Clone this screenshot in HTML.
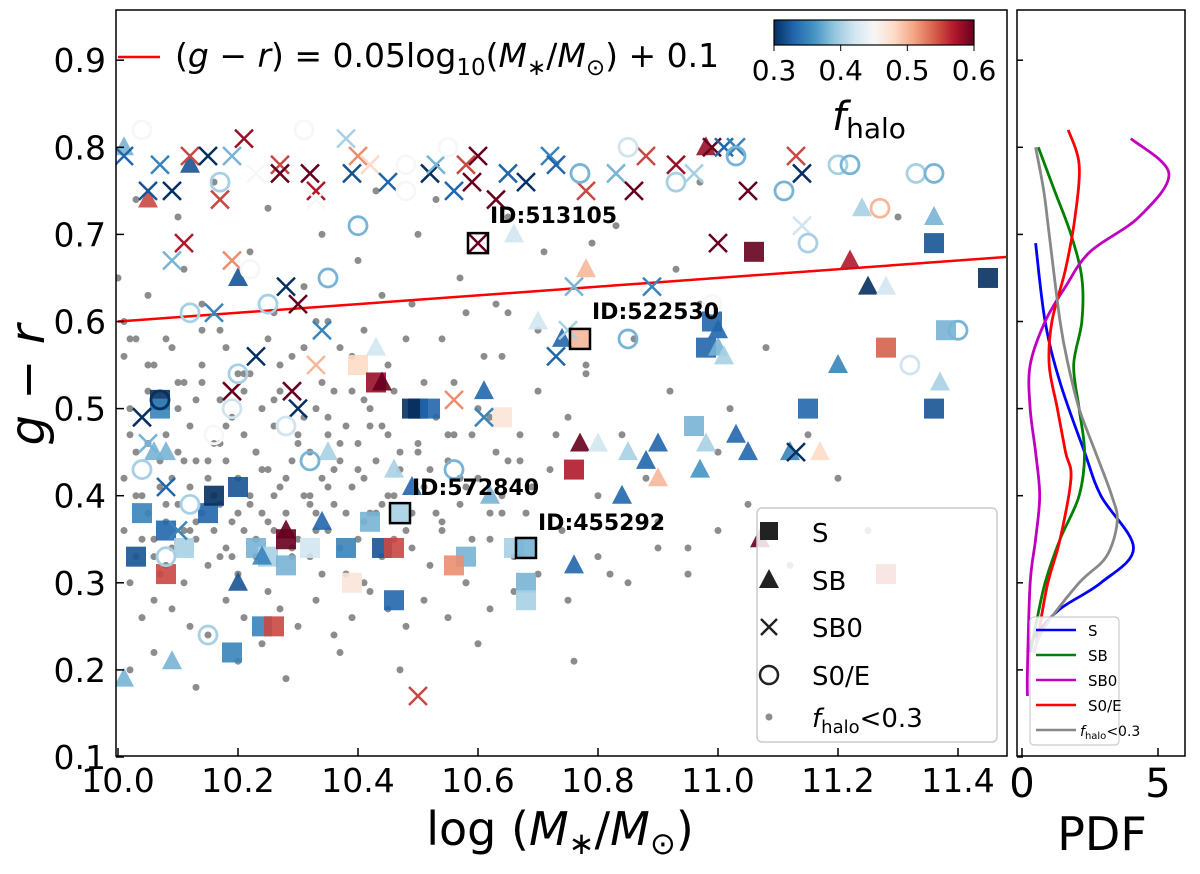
<!DOCTYPE html>
<html><head><meta charset="utf-8">
<style>
body{margin:0;background:#fff;}
svg{display:block;font-family:"DejaVu Sans","Liberation Sans",sans-serif;}
</style></head>
<body>
<svg id="chart" width="1200" height="874" viewBox="0 0 1200 874" xmlns="http://www.w3.org/2000/svg">
<defs>
<linearGradient id="cmap" x1="0" x2="1" y1="0" y2="0">
<stop offset="0" stop-color="#053061"/><stop offset="0.1" stop-color="#2166ac"/><stop offset="0.2" stop-color="#4393c3"/><stop offset="0.3" stop-color="#92c5de"/><stop offset="0.4" stop-color="#d1e5f0"/><stop offset="0.5" stop-color="#f7f7f7"/><stop offset="0.6" stop-color="#fddbc7"/><stop offset="0.7" stop-color="#f4a582"/><stop offset="0.8" stop-color="#d6604d"/><stop offset="0.9" stop-color="#b2182b"/><stop offset="1" stop-color="#67001f"/>
</linearGradient>
<clipPath id="mainclip"><rect x="116" y="11" width="890" height="745"/></clipPath>
</defs>
<g id="main" clip-path="url(#mainclip)"></g>
<g id="pdf"></g>
<g id="axes"></g>
</svg>
<script>
// ---------- data ----------
const xTicks=[10.0,10.2,10.4,10.6,10.8,11.0,11.2,11.4];
const yTicks=[0.1,0.2,0.3,0.4,0.5,0.6,0.7,0.8,0.9];
const pdfTicks=[0,5];
const cbTicks=[0.3,0.4,0.5,0.6];
// S squares
const sX=[10.07,10.07,10.04,10.03,10.08,10.08,10.11,10.15,10.16,10.2,10.19,10.23,10.25,10.24,10.26,10.28,10.28,10.32,10.38,10.39,10.40,10.42,10.43,10.44,10.46,10.46,10.49,10.5,10.52,10.58,10.56,10.64,10.68,10.68,10.66,10.76,10.77,10.96,10.99,10.98,11.06,11.15,11.28,11.36,11.38,11.36,11.45,11.28,10.47,10.68];
const sY=[0.51,0.50,0.38,0.33,0.36,0.31,0.34,0.38,0.40,0.41,0.22,0.34,0.33,0.25,0.25,0.32,0.35,0.34,0.34,0.30,0.55,0.37,0.53,0.34,0.34,0.28,0.50,0.50,0.50,0.33,0.32,0.49,0.30,0.28,0.34,0.43,0.58,0.48,0.60,0.57,0.68,0.50,0.57,0.69,0.59,0.50,0.65,0.31,0.38,0.34];
const sF=[0.3,0.35,0.35,0.32,0.33,0.55,0.4,0.33,0.3,0.32,0.35,0.38,0.4,0.35,0.55,0.38,0.6,0.42,0.35,0.47,0.48,0.38,0.58,0.32,0.55,0.33,0.3,0.3,0.33,0.38,0.52,0.47,0.38,0.4,0.4,0.57,0.5,0.38,0.33,0.33,0.6,0.33,0.54,0.32,0.38,0.32,0.3,0.55,0.4,0.38];
// SB triangles
const tX=[10.01,10.05,10.2,10.01,10.08,10.09,10.12,10.2,10.24,10.28,10.35,10.34,10.43,10.44,10.46,10.49,10.61,10.62,10.66,10.70,10.74,10.76,10.77,10.78,10.80,10.84,10.85,10.88,10.90,10.9,10.97,10.98,11.03,11.0,11.0,11.01,11.05,11.07,11.12,11.17,11.2,11.22,11.24,11.25,11.28,11.37,10.98,11.36,10.06];
const tY=[0.80,0.74,0.65,0.19,0.45,0.21,0.78,0.30,0.33,0.36,0.45,0.37,0.57,0.53,0.43,0.41,0.52,0.40,0.70,0.60,0.58,0.32,0.46,0.66,0.46,0.40,0.45,0.44,0.46,0.42,0.43,0.46,0.47,0.57,0.59,0.56,0.45,0.35,0.45,0.45,0.55,0.67,0.73,0.64,0.64,0.53,0.80,0.72,0.45];
const tF=[0.38,0.55,0.32,0.38,0.38,0.38,0.32,0.32,0.35,0.6,0.4,0.33,0.42,0.6,0.4,0.33,0.33,0.38,0.42,0.42,0.33,0.33,0.6,0.5,0.42,0.33,0.4,0.33,0.33,0.5,0.36,0.4,0.33,0.38,0.33,0.4,0.33,0.6,0.35,0.48,0.35,0.57,0.4,0.3,0.42,0.4,0.58,0.38,0.38];
// SB0 crosses
const cX=[10.01,10.05,10.07,10.09,10.09,10.11,10.12,10.15,10.17,10.19,10.21,10.19,10.23,10.27,10.27,10.32,10.33,10.33,10.34,10.38,10.39,10.4,10.42,10.45,10.52,10.53,10.56,10.58,10.59,10.60,10.63,10.65,10.68,10.72,10.73,10.78,10.83,10.86,10.88,10.93,10.96,10.99,11.01,11.03,11.05,11.13,11.14,10.04,10.08,10.1,10.16,10.19,10.23,10.28,10.3,10.3,10.33,10.56,10.61,10.5,10.73,10.75,10.76,10.89,11.0,11.13,11.14,10.05,10.29,10.6];
const cY=[0.79,0.75,0.78,0.75,0.67,0.69,0.79,0.79,0.74,0.79,0.81,0.67,0.77,0.78,0.77,0.77,0.75,0.74,0.59,0.81,0.77,0.79,0.78,0.76,0.77,0.78,0.75,0.78,0.76,0.79,0.74,0.77,0.76,0.79,0.78,0.75,0.77,0.75,0.79,0.78,0.77,0.80,0.80,0.80,0.75,0.79,0.77,0.49,0.41,0.36,0.61,0.52,0.56,0.64,0.50,0.62,0.55,0.51,0.49,0.17,0.56,0.59,0.64,0.64,0.69,0.45,0.71,0.46,0.52,0.69];
const cF=[0.33,0.32,0.35,0.3,0.38,0.57,0.55,0.3,0.55,0.38,0.58,0.52,0.45,0.55,0.6,0.6,0.57,0.45,0.35,0.4,0.32,0.52,0.48,0.33,0.3,0.38,0.33,0.55,0.6,0.6,0.6,0.33,0.3,0.35,0.33,0.55,0.38,0.6,0.55,0.58,0.4,0.6,0.33,0.35,0.6,0.55,0.3,0.3,0.33,0.35,0.35,0.6,0.3,0.3,0.3,0.6,0.5,0.52,0.35,0.55,0.33,0.4,0.38,0.35,0.6,0.3,0.42,0.38,0.6,0.6];
// S0/E circles
const oX=[10.04,10.17,10.22,10.25,10.31,10.35,10.4,10.48,10.55,10.48,10.77,10.85,10.93,11.03,11.11,11.2,11.22,11.27,11.33,11.36,11.15,11.32,11.4,10.99,10.85,10.56,10.07,10.12,10.2,10.28,10.32,10.04,10.15,10.12,10.19,10.08,10.16];
const oY=[0.82,0.76,0.66,0.62,0.82,0.65,0.71,0.78,0.80,0.75,0.77,0.80,0.76,0.79,0.75,0.78,0.78,0.73,0.77,0.77,0.69,0.55,0.59,0.62,0.58,0.43,0.51,0.39,0.54,0.48,0.44,0.43,0.24,0.61,0.50,0.33,0.47];
const oF=[0.45,0.4,0.45,0.4,0.45,0.38,0.38,0.45,0.45,0.45,0.38,0.42,0.4,0.38,0.38,0.4,0.38,0.5,0.4,0.38,0.4,0.42,0.38,0.45,0.38,0.38,0.3,0.4,0.4,0.42,0.38,0.4,0.4,0.4,0.42,0.4,0.45];
// fhalo<0.3 grey dots
const dX=[10.0,10.01,10.02,10.03,10.03,10.04,10.05,10.05,10.06,10.06,10.07,10.07,10.08,10.08,10.09,10.09,10.10,10.10,10.11,10.11,10.12,10.12,10.13,10.13,10.14,10.14,10.15,10.15,10.16,10.16,10.17,10.17,10.18,10.18,10.19,10.19,10.20,10.20,10.21,10.21,10.22,10.22,10.23,10.23,10.24,10.24,10.25,10.25,10.26,10.26,10.27,10.27,10.28,10.29,10.30,10.30,10.31,10.31,10.32,10.32,10.33,10.33,10.34,10.34,10.35,10.35,10.36,10.36,10.37,10.37,10.38,10.38,10.39,10.39,10.40,10.40,10.41,10.41,10.42,10.42,10.43,10.44,10.45,10.45,10.46,10.46,10.47,10.48,10.49,10.50,10.51,10.52,10.53,10.54,10.55,10.56,10.57,10.58,10.59,10.60,10.61,10.62,10.63,10.64,10.65,10.66,10.67,10.68,10.70,10.72,10.74,10.75,10.78,10.80,10.82,10.84,10.86,10.88,10.90,10.92,10.95,10.97,11.00,11.02,11.05,11.08,11.12,11.15,11.20,11.25,11.30,10.02,10.04,10.06,10.09,10.12,10.15,10.18,10.21,10.24,10.27,10.30,10.33,10.36,10.39,10.42,10.45,10.48,10.51,10.55,10.58,10.62,10.66,10.70,10.75,10.80,10.85,10.90,10.95,11.00,10.01,10.05,10.08,10.11,10.14,10.17,10.22,10.26,10.31,10.35,10.40,10.44,10.50,10.57,10.63,10.71,10.83,10.93,10.03,10.10,10.16,10.25,10.34,10.43,10.53,10.65,10.79,10.97,10.02,10.13,10.20,10.28,10.37,10.47,10.60,10.76,
10.01,10.02,10.04,10.05,10.07,10.08,10.10,10.11,10.13,10.14,10.16,10.17,10.19,10.20,10.22,10.23,10.25,10.26,10.28,10.29,10.31,10.32,10.34,10.35,10.37,10.38,10.40,10.41,10.43,10.44,10.46,10.48,10.50,10.52,10.54,10.56,10.58,10.60,10.62,10.65,
10.02,10.03,10.05,10.06,10.08,10.10,10.12,10.13,10.15,10.17,10.18,10.20,10.21,10.23,10.24,10.26,10.27,10.29,10.30,10.32,10.33,10.35,10.36,10.38,10.39,10.41,10.42,10.44,10.47,10.49,10.51,10.53,10.55,10.57,10.59,10.62,10.64,10.67,10.69,10.73,
10.01,10.03,10.06,10.09,10.11,10.14,10.18,10.21,10.25,10.29,10.33,10.37,10.41,10.45,10.49,10.54,10.58,10.64,10.70,10.78];
const dY=[0.65,0.36,0.30,0.45,0.33,0.40,0.38,0.52,0.35,0.28,0.44,0.31,0.37,0.47,0.34,0.42,0.39,0.53,0.36,0.30,0.41,0.48,0.35,0.44,0.38,0.55,0.32,0.42,0.46,0.36,0.39,0.51,0.34,0.44,0.37,0.49,0.31,0.42,0.47,0.36,0.54,0.40,0.33,0.45,0.38,0.50,0.43,0.29,0.36,0.48,0.41,0.52,0.38,0.44,0.35,0.47,0.40,0.57,0.33,0.45,0.38,0.50,0.42,0.31,0.47,0.36,0.52,0.39,0.44,0.34,0.48,0.38,0.41,0.56,0.35,0.46,0.42,0.30,0.50,0.38,0.44,0.33,0.47,0.40,0.52,0.35,0.43,0.58,0.38,0.46,0.41,0.32,0.49,0.36,0.44,0.53,0.39,0.30,0.47,0.42,0.56,0.35,0.45,0.40,0.61,0.33,0.47,0.38,0.52,0.43,0.36,0.49,0.55,0.40,0.31,0.47,0.58,0.42,0.37,0.52,0.34,0.62,0.45,0.50,0.39,0.57,0.32,0.47,0.42,0.36,0.72,0.58,0.26,0.22,0.27,0.25,0.24,0.28,0.26,0.23,0.27,0.25,0.28,0.24,0.26,0.29,0.27,0.25,0.28,0.26,0.30,0.27,0.29,0.31,0.28,0.33,0.30,0.34,0.31,0.36,0.60,0.63,0.58,0.66,0.62,0.59,0.68,0.61,0.64,0.60,0.67,0.63,0.70,0.65,0.62,0.68,0.71,0.66,0.74,0.72,0.76,0.73,0.70,0.75,0.74,0.72,0.69,0.76,0.20,0.18,0.21,0.19,0.22,0.20,0.23,0.21,
0.42,0.47,0.35,0.55,0.41,0.32,0.50,0.44,0.37,0.53,0.40,0.46,0.33,0.54,0.39,0.45,0.37,0.51,0.42,0.34,0.49,0.39,0.53,0.41,0.46,0.31,0.43,0.51,0.38,0.48,0.40,0.36,0.45,0.43,0.37,0.47,0.41,0.50,0.38,0.44,
0.50,0.40,0.46,0.33,0.39,0.45,0.36,0.51,0.44,0.33,0.48,0.38,0.52,0.35,0.43,0.40,0.55,0.33,0.46,0.40,0.36,0.49,0.43,0.31,0.52,0.37,0.48,0.39,0.45,0.34,0.53,0.38,0.47,0.42,0.35,0.49,0.38,0.44,0.41,0.47,
0.56,0.58,0.55,0.57,0.53,0.59,0.57,0.54,0.58,0.56,0.60,0.57,0.59,0.55,0.62,0.58,0.61,0.56,0.59,0.54];
// PDF curves
const pdfYS=[0.69,0.60,0.53,0.45,0.40,0.34,0.30,0.27,0.24,0.22];
const pdfS=[0.5,0.85,1.4,2.3,2.9,4.1,2.9,1.4,0.5,0.2];
const pdfYSB=[0.80,0.75,0.70,0.65,0.60,0.55,0.50,0.45,0.40,0.35,0.30,0.25,0.22];
const pdfSB=[0.6,1.2,1.8,2.2,2.2,1.9,2.1,2.3,2.1,1.4,0.85,0.5,0.3];
const pdfYSB0=[0.81,0.77,0.72,0.68,0.64,0.60,0.55,0.50,0.45,0.40,0.35,0.30,0.20,0.17];
const pdfSB0=[4.0,5.4,4.3,2.5,1.6,0.85,0.3,0.3,0.5,0.65,0.5,0.3,0.2,0.2];
const pdfYS0=[0.82,0.78,0.72,0.66,0.60,0.55,0.50,0.45,0.42,0.35,0.30,0.25,0.22];
const pdfS0=[1.7,2.1,1.95,1.6,1.1,1.0,1.3,1.6,1.8,1.4,0.95,0.65,0.45];
const pdfYG=[0.80,0.75,0.70,0.60,0.55,0.50,0.45,0.40,0.37,0.33,0.30,0.25,0.22];
const pdfG=[0.5,0.8,1.0,1.4,1.7,2.1,2.7,3.3,3.5,3.1,2.1,0.85,0.4];

// ---------- scales ----------
const X=v=>118+(v-10)*600;
const Y=v=>757-(v-0.1)*871;
const PX=v=>1022+v*27.2;
const NS="http://www.w3.org/2000/svg";
function mk(parent,tag,attrs){const e=document.createElementNS(NS,tag);for(const k in attrs)e.setAttribute(k,attrs[k]);parent.appendChild(e);return e;}
const stops=[[5,48,97],[33,102,172],[67,147,195],[146,197,222],[209,229,240],[247,247,247],[253,219,199],[244,165,130],[214,96,77],[178,24,43],[103,0,31]];
function cmap(f){let t=Math.max(0,Math.min(1,(f-0.3)/0.3))*10;let i=Math.min(9,Math.floor(t)),r=t-i;const a=stops[i],b=stops[i+1];return `rgb(${a.map((v,j)=>Math.round(v+(b[j]-v)*r)).join(',')})`;}
const main=document.getElementById('main'),pdfG_=document.getElementById('pdf'),ax=document.getElementById('axes');

for(let i=0;i<dX.length;i++){const e=mk(main,'circle',{cx:X(dX[i]),cy:Y(dY[i]),r:3.5,fill:'#8c8c8c'});

}
const rl=mk(main,'line',{x1:X(10),y1:Y(0.6),x2:X(11.5),y2:Y(0.675),stroke:'#ff0000','stroke-width':2.5});


for(let i=0;i<sX.length;i++){const e=mk(main,'rect',{x:X(sX[i])-10,y:Y(sY[i])-10,width:20,height:20,fill:cmap(sF[i]),opacity:0.9});

}
for(let i=0;i<tX.length;i++){const x=X(tX[i]),y=Y(tY[i]);const e=mk(main,'polygon',{points:`${x},${y-11} ${x-10},${y+8} ${x+10},${y+8}`,fill:cmap(tF[i]),opacity:0.9});

}
for(let i=0;i<cX.length;i++){const x=X(cX[i]),y=Y(cY[i]);const e=mk(main,'path',{d:`M${x-9},${y-9}L${x+9},${y+9}M${x-9},${y+9}L${x+9},${y-9}`,stroke:cmap(cF[i]),'stroke-width':2.5,fill:'none'});

}
for(let i=0;i<oX.length;i++){const e=mk(main,'circle',{cx:X(oX[i]),cy:Y(oY[i]),r:9,stroke:cmap(oF[i]),'stroke-width':2.8,fill:'none'});

}
const idX=[10.6,10.77,10.47,10.68],idY=[0.69,0.58,0.38,0.34],idL=['ID:513105','ID:522530','ID:572840','ID:455292'];
const idDx=[12,12,12,12],idDy=[-20,-20,-18,-18];
for(let i=0;i<idX.length;i++){const x=X(idX[i]),y=Y(idY[i]);
const b=mk(main,'rect',{x:x-10,y:y-10,width:20,height:20,fill:'none',stroke:'#000','stroke-width':2.5});


const t=mk(main,'text',{x:x+idDx[i],y:y+idDy[i],'font-size':22,'font-weight':'bold',fill:'#000'});t.textContent=idL[i];

}

const fr=mk(ax,'rect',{x:116,y:10,width:891,height:746,fill:'none',stroke:'#000','stroke-width':1.5});


xTicks.forEach(v=>{mk(ax,'line',{x1:X(v),x2:X(v),y1:756,y2:748,stroke:'#000','stroke-width':1.5});
const t=mk(ax,'text',{x:X(v),y:792,'font-size':33,'text-anchor':'middle'});t.textContent=v.toFixed(1);

});
yTicks.forEach(v=>{mk(ax,'line',{x1:116,x2:124,y1:Y(v),y2:Y(v),stroke:'#000','stroke-width':1.5});
const t=mk(ax,'text',{x:106,y:Y(v)+12,'font-size':33,'text-anchor':'end'});t.textContent=v.toFixed(1);

});
const fr2=mk(ax,'rect',{x:1017,y:10,width:168,height:746,fill:'none',stroke:'#000','stroke-width':1.5});


pdfTicks.forEach(v=>{mk(ax,'line',{x1:PX(v),x2:PX(v),y1:756,y2:748,stroke:'#000','stroke-width':1.5});
const t=mk(ax,'text',{x:PX(v),y:797,'font-size':40,'text-anchor':'middle'});t.textContent=v;

});
yTicks.forEach(v=>{mk(ax,'line',{x1:1017,x2:1023,y1:Y(v),y2:Y(v),stroke:'#000','stroke-width':1.5});});
function smooth(xs,ys){const p=xs.map((x,i)=>[PX(x),Y(ys[i])]);let d=`M${p[0][0]},${p[0][1]}`;
for(let i=0;i<p.length-1;i++){const p0=p[Math.max(0,i-1)],p1=p[i],p2=p[i+1],p3=p[Math.min(p.length-1,i+2)];
d+=`C${p1[0]+(p2[0]-p0[0])/6},${p1[1]+(p2[1]-p0[1])/6} ${p2[0]-(p3[0]-p1[0])/6},${p2[1]-(p3[1]-p1[1])/6} ${p2[0]},${p2[1]}`;}return d;}
const curves=[[pdfS,pdfYS,'#0000ff','pdf-s'],[pdfSB,pdfYSB,'#008000','pdf-sb'],[pdfSB0,pdfYSB0,'#bf00bf','pdf-sb0'],[pdfS0,pdfYS0,'#ff0000','pdf-s0e'],[pdfG,pdfYG,'#888888','pdf-fhalo-low']];
curves.forEach(c=>{const e=mk(pdfG_,'path',{d:smooth(c[0],c[1]),stroke:c[2],'stroke-width':2.8,fill:'none'});

});
</script>
<script>
const A=document.getElementById('axes');
A.insertAdjacentHTML('beforeend',`
<text x="44" y="385" font-size="48" font-style="italic" text-anchor="middle" transform="rotate(-90 44 385)">g − r</text>
<text x="560" y="845" font-size="46" text-anchor="middle">log (<tspan font-style="italic">M</tspan><tspan font-size="31" dy="9">∗</tspan><tspan dy="-9">/</tspan><tspan font-style="italic">M</tspan><tspan font-size="31" dy="9">⊙</tspan><tspan dy="-9">)</tspan></text>
<text x="1102" y="850" font-size="46" text-anchor="middle">PDF</text>
<g>
<line x1="118" y1="57" x2="160" y2="57" stroke="#ff0000" stroke-width="2.5"/>
<text x="175" y="67" font-size="33">(<tspan font-style="italic">g</tspan> − <tspan font-style="italic">r</tspan>) = 0.05log<tspan font-size="23" dy="8">10</tspan><tspan dy="-8">(</tspan><tspan font-style="italic">M</tspan><tspan font-size="23" dy="8">∗</tspan><tspan dy="-8">/</tspan><tspan font-style="italic">M</tspan><tspan font-size="23" dy="8">⊙</tspan><tspan dy="-8">) + 0.1</tspan></text>
</g>
<g>
<rect x="774" y="20" width="200" height="25" fill="url(#cmap)" stroke="#000" stroke-width="1.2"/>
<line x1="774" y1="45" x2="774" y2="51" stroke="#000"/><line x1="840.7" y1="45" x2="840.7" y2="51" stroke="#000"/><line x1="907.3" y1="45" x2="907.3" y2="51" stroke="#000"/><line x1="974" y1="45" x2="974" y2="51" stroke="#000"/>
<text x="774" y="80" font-size="28" text-anchor="middle">0.3</text><text x="840.7" y="80" font-size="28" text-anchor="middle">0.4</text><text x="907.3" y="80" font-size="28" text-anchor="middle">0.5</text><text x="974" y="80" font-size="28" text-anchor="middle">0.6</text>
<text x="832" y="130" font-size="40" font-style="italic">f<tspan font-style="normal" font-size="28" dy="8">halo</tspan></text>
</g>
<g>
<rect x="757" y="508" width="240" height="234" rx="5" fill="#fff" fill-opacity="0.85" stroke="#ccc" stroke-width="1.5"/>
<rect x="760" y="522" width="18" height="18" fill="#222"/>
<text x="812" y="542" font-size="26">S</text>
<polygon points="769,569 759,588 779,588" fill="#222"/>
<text x="812" y="590" font-size="26">SB</text>
<path d="M761,619L777,635M761,635L777,619" stroke="#222" stroke-width="2.5"/>
<text x="812" y="637" font-size="26">SB0</text>
<circle cx="769" cy="675" r="9" fill="none" stroke="#222" stroke-width="2.5"/>
<text x="812" y="685" font-size="26">S0/E</text>
<circle cx="769" cy="717" r="3.5" fill="#8c8c8c"/>
<text x="812" y="727" font-size="26" font-style="italic">f<tspan font-style="normal" font-size="18" dy="6">halo</tspan><tspan font-style="normal" dy="-6">&lt;0.3</tspan></text>
</g>
<g>
<rect x="1030" y="617" width="89" height="128" rx="4" fill="#fff" fill-opacity="0.85" stroke="#ccc" stroke-width="1.2"/>
<line x1="1036" y1="630" x2="1076" y2="630" stroke="#0000ff" stroke-width="2.5"/><text x="1088" y="636" font-size="15">S</text>
<line x1="1036" y1="655" x2="1076" y2="655" stroke="#008000" stroke-width="2.5"/><text x="1088" y="661" font-size="15">SB</text>
<line x1="1036" y1="680" x2="1076" y2="680" stroke="#bf00bf" stroke-width="2.5"/><text x="1088" y="686" font-size="15">SB0</text>
<line x1="1036" y1="705" x2="1076" y2="705" stroke="#ff0000" stroke-width="2.5"/><text x="1088" y="711" font-size="15">S0/E</text>
<line x1="1036" y1="730" x2="1076" y2="730" stroke="#888" stroke-width="2.5"/><text x="1080" y="736" font-size="14" font-style="italic">f<tspan font-style="normal" font-size="10" dy="3">halo</tspan><tspan font-style="normal" dy="-3">&lt;0.3</tspan></text>
</g>`);
</script>
</body></html>
